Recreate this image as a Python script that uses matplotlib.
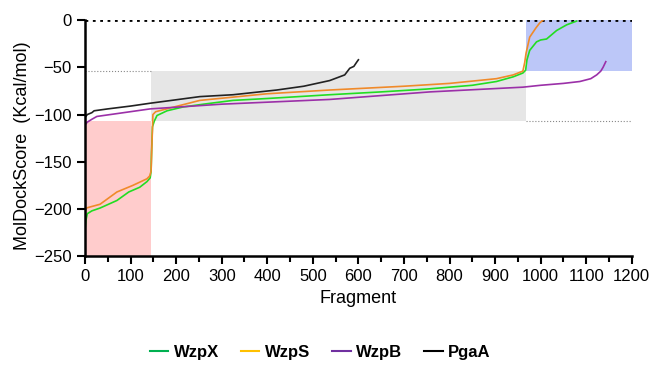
import matplotlib
matplotlib.use("Agg")
import matplotlib.pyplot as plt
import matplotlib.patches as patches
from matplotlib.lines import Line2D
from matplotlib.ticker import MultipleLocator

plt.rcParams['font.family'] = ['Liberation Sans', 'DejaVu Sans']

# series (fragment index, MolDock score)
wzpx_x = [0, 2, 5, 15, 33, 70, 96, 120, 136, 143, 145, 146, 148, 152, 158, 180, 215, 260, 325, 400,
          537, 650, 750, 850, 903, 940, 961, 967, 970, 976, 991, 1000, 1013, 1035, 1057, 1079]
wzpx_y = [-222, -212, -205, -202, -199, -191, -182, -177, -171, -167, -160, -140, -113, -107, -101, -96,
          -92, -89, -85, -83, -79, -76, -73, -69, -65, -60, -56, -53, -42, -32, -23, -21, -20, -11, -5, -1]

wzps_x = [0, 3, 10, 33, 70, 105, 136, 142, 145, 147, 149, 155, 179, 252, 399, 537, 700, 800, 903,
          940, 961, 965, 968, 976, 990, 998, 1005]
wzps_y = [-203, -199, -198, -195, -182, -175, -168, -165, -160, -130, -100, -97, -94, -85, -78, -74,
          -70, -67, -62, -58, -54, -45, -35, -18, -8, -3, 0]

wzpb_x = [0, 5, 15, 26, 70, 143, 300, 537, 757, 961, 1000, 1050, 1086, 1110, 1123, 1132, 1137, 1141, 1143]
wzpb_y = [-111, -108, -105, -102, -99, -94, -89, -84, -76, -71, -69, -67, -65, -62, -58, -54, -50, -46, -44]

pgaa_x = [0, 5, 15, 20, 50, 100, 143, 252, 325, 421, 480, 537, 570, 581, 590, 597, 600]
pgaa_y = [-103, -100, -98, -96, -94, -91, -88, -81, -79, -74, -70, -64, -58, -51, -49, -44, -42]

# shaded zones: (x0, x1, y0, y1)
zones = [(0, 145, -250, -107), (145, 968, -107, -54), (968, 1200, -54, 0)]
zone_colors = ['#ffcccc', '#e6e6e6', '#bcc7f8']

fig = plt.figure(figsize=(6.54, 3.66), dpi=100)
ax = fig.add_axes([0.130, 0.300, 0.836, 0.645])

for (x0, x1, y0, y1), c in zip(zones, zone_colors):
    ax.add_patch(patches.Rectangle((x0, y0), x1 - x0, y1 - y0, color=c, lw=0, zorder=0))

ax.plot([0, 145], [-54, -54], ls=':', color='#888888', lw=0.8)
ax.plot([968, 1200], [-107, -107], ls=':', color='#888888', lw=0.8)
ax.axhline(0, ls=':', color='black', lw=2)

ax.plot(wzpx_x, wzpx_y, color='#22dd22', lw=1.2)
ax.plot(wzps_x, wzps_y, color='#f08a2a', lw=1.2)
ax.plot(wzpb_x, wzpb_y, color='#9b30a8', lw=1.2)
ax.plot(pgaa_x, pgaa_y, color='#222222', lw=1.2)

ax.set_xlim(0, 1200)
ax.set_ylim(-250, 0)
ax.xaxis.set_major_locator(MultipleLocator(100))
ax.xaxis.set_minor_locator(MultipleLocator(50))
ax.yaxis.set_major_locator(MultipleLocator(50))
ax.tick_params(axis='both', which='major', length=6, width=1.5, labelsize=12)
ax.tick_params(axis='x', which='minor', length=4, width=1.5)
for s in ['top', 'right']:
    ax.spines[s].set_visible(False)
for s in ['left', 'bottom']:
    ax.spines[s].set_linewidth(1.8)
ax.set_xlabel('Fragment', fontsize=13)
ax.set_ylabel('MolDockScore  (Kcal/mol)', fontsize=13)
ax.yaxis.set_label_coords(-0.098, 0.47)

handles = [Line2D([], [], color='#00b050', lw=1.5), Line2D([], [], color='#ffc000', lw=1.5),
           Line2D([], [], color='#7030a0', lw=1.5), Line2D([], [], color='black', lw=1.5)]
fig.legend(handles, ['WzpX', 'WzpS', 'WzpB', 'PgaA'], loc='lower center', ncol=4,
           bbox_to_anchor=(0.49, -0.025), frameon=False, handlelength=1.1, handletextpad=0.35,
           columnspacing=1.3, prop={'weight': 'bold', 'size': 12})

fig.savefig('out.png', dpi=100)
